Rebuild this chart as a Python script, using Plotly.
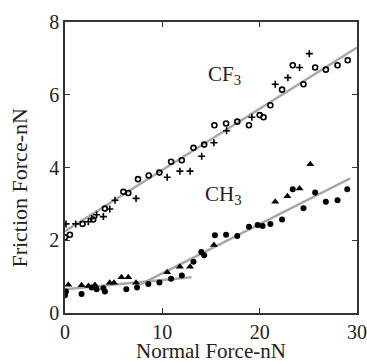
import plotly.graph_objects as go

# CF3 data
cf3_circle_x = [0.0, 0.5, 1.8, 2.9, 4.1, 6.0, 6.5, 7.5, 8.6, 9.7, 10.9, 12.0, 13.2, 14.3, 15.35, 16.55, 17.7, 18.9, 20.0, 20.4, 21.1, 22.3, 23.4, 24.5, 25.7, 26.8, 28.0, 29.05]
cf3_circle_y = [2.08, 2.15, 2.45, 2.57, 2.87, 3.33, 3.3, 3.68, 3.78, 3.86, 4.16, 4.2, 4.54, 4.63, 5.16, 5.21, 5.26, 5.16, 5.44, 5.38, 5.71, 6.14, 6.81, 6.29, 6.75, 6.69, 6.81, 6.95]
cf3_cross_x = [0.1, 1.1, 2.4, 2.74, 3.25, 3.94, 4.6, 5.14, 7.3, 10.5, 11.8, 12.85, 14.04, 15.3, 16.6, 19.2, 21.6, 22.9, 24.1, 25.1]
cf3_cross_y = [2.45, 2.45, 2.51, 2.6, 2.7, 2.65, 2.86, 3.1, 3.15, 3.73, 3.9, 3.9, 4.31, 4.68, 5.01, 5.38, 6.29, 6.47, 6.75, 7.13]
cf3_fit_x = [0, 30]
cf3_fit_y = [2.25, 7.3]

# CH3 data
ch3_circle_x = [0.0, 0.1, 1.7, 2.74, 3.25, 3.94, 4.1, 6.3, 7.4, 8.56, 9.7, 10.9, 12.0, 13.2, 14.0, 14.3, 15.4, 16.55, 17.7, 18.9, 19.8, 20.3, 21.1, 22.3, 23.4, 24.5, 25.7, 26.8, 28.0, 29.0]
ch3_circle_y = [0.49, 0.59, 0.52, 0.7, 0.65, 0.68, 0.59, 0.65, 0.7, 0.8, 0.84, 0.94, 1.03, 1.41, 1.68, 1.59, 2.14, 2.15, 2.12, 2.37, 2.42, 2.39, 2.45, 2.57, 3.4, 2.88, 3.31, 3.06, 3.1, 3.4]
ch3_tri_x = [0.34, 1.7, 2.4, 3.08, 4.6, 5.03, 5.8, 6.5, 7.3, 10.5, 11.8, 12.85, 15.3, 21.6, 22.85, 24.1, 25.2]
ch3_tri_y = [0.78, 0.76, 0.74, 0.77, 0.83, 0.83, 0.98, 0.98, 0.83, 1.12, 1.27, 1.27, 1.87, 3.06, 3.21, 3.42, 4.09]
ch3_fit1_x = [0, 13]
ch3_fit1_y = [0.65, 0.98]
ch3_fit2_x = [7.7, 29.3]
ch3_fit2_y = [0.78, 3.7]

x_ticks = [0, 10, 20, 30]
y_ticks = [0, 2, 4, 6, 8]
x_title = "Normal Force-nN"
y_title = "Friction Force-nN"

GRAY = "#a8a8a8"
fig = go.Figure()
for fx, fy in [(cf3_fit_x, cf3_fit_y), (ch3_fit1_x, ch3_fit1_y), (ch3_fit2_x, ch3_fit2_y)]:
    fig.add_trace(go.Scatter(x=fx, y=fy, mode="lines", line=dict(color=GRAY, width=2.5), showlegend=False, hoverinfo="skip"))

fig.add_trace(go.Scatter(x=cf3_circle_x, y=cf3_circle_y, mode="markers",
                         marker=dict(symbol="circle-open", size=5, color="black", line=dict(width=1.6)), showlegend=False))
fig.add_trace(go.Scatter(x=cf3_cross_x, y=cf3_cross_y, mode="markers",
                         marker=dict(symbol="cross-thin", size=5, color="black", line=dict(width=1.6, color="black")), showlegend=False))
fig.add_trace(go.Scatter(x=ch3_circle_x, y=ch3_circle_y, mode="markers",
                         marker=dict(symbol="circle", size=6, color="black"), showlegend=False))
fig.add_trace(go.Scatter(x=ch3_tri_x, y=ch3_tri_y, mode="markers",
                         marker=dict(symbol="triangle-up", size=7, color="black"), showlegend=False))

FONT = "Liberation Serif"
TXT = "#222"
fig.add_annotation(x=14.5, y=6.55, text="CF<sub>3</sub>", showarrow=False, xanchor="left", yanchor="middle",
                   font=dict(family=FONT, size=21, color=TXT))
fig.add_annotation(x=14.2, y=3.25, text="CH<sub>3</sub>", showarrow=False, xanchor="left", yanchor="middle",
                   font=dict(family=FONT, size=21, color=TXT))
# axis titles
fig.add_annotation(xref="paper", yref="paper", x=0.5, y=-0.132, text=x_title, showarrow=False,
                   xanchor="center", yanchor="middle", font=dict(family=FONT, size=21, color=TXT))
fig.add_annotation(xref="paper", yref="paper", x=-0.155, y=0.43, text=y_title, showarrow=False, textangle=-90,
                   xanchor="center", yanchor="middle", font=dict(family=FONT, size=22, color=TXT))

axis_common = dict(showline=True, linecolor="#333", linewidth=1.5, mirror="ticks", ticks="inside",
                   ticklen=5, tickwidth=1.2, tickcolor="#333", showgrid=False, zeroline=False,
                   automargin=False, ticklabeloverflow="allow",
                   tickfont=dict(family=FONT, size=20, color=TXT))
fig.update_xaxes(range=[0, 30], tickvals=x_ticks, ticktext=[str(v) for v in x_ticks], **axis_common)
fig.update_yaxes(range=[0, 8], tickvals=y_ticks, ticktext=[str(v) for v in y_ticks], **axis_common)
fig.update_layout(width=367, height=364, margin=dict(l=65, r=10, t=22, b=51),
                  paper_bgcolor="white", plot_bgcolor="white")
fig.write_html("out.html", config={"displayModeBar": False},
               post_script="document.body.style.margin='0';document.body.style.overflow='hidden';")
